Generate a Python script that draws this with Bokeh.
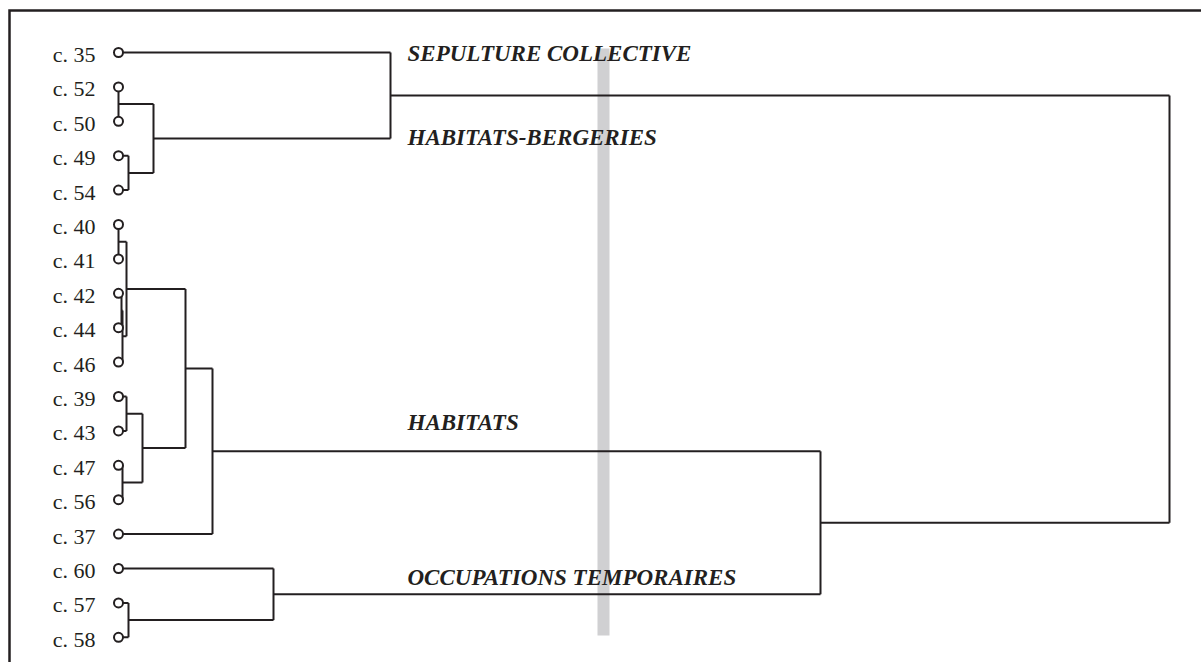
from bokeh.plotting import figure
from bokeh.models import Range1d
from bokeh.core.properties import value
from bokeh.embed import file_html
from bokeh.resources import INLINE

# ---- data ----
leaves = ["c. 35", "c. 52", "c. 50", "c. 49", "c. 54", "c. 40", "c. 41", "c. 42", "c. 44",
          "c. 46", "c. 39", "c. 43", "c. 47", "c. 56", "c. 37", "c. 60", "c. 57", "c. 58"]

# linkage: node n<k> (k = 1..17) merges merge_a[k-1] and merge_b[k-1] at merge_h[k-1]
merge_a = ["c. 52", "c. 49", "n1", "c. 35", "c. 40", "c. 42", "n6", "n5", "c. 39",
           "c. 47", "n9", "n8", "n12", "c. 57", "c. 60", "n13", "n4"]
merge_b = ["c. 50", "c. 54", "n2", "n3", "c. 41", "c. 44", "c. 46", "n7", "c. 43",
           "c. 56", "n10", "n11", "c. 37", "c. 58", "n14", "n15", "n16"]
merge_h = [0, 10, 35, 272, 0, 3, 4, 8, 8, 4, 24, 67, 94, 10, 155, 702, 1051]

groups = ["SEPULTURE COLLECTIVE", "HABITATS-BERGERIES", "HABITATS", "OCCUPATIONS TEMPORAIRES"]

# ---- layout constants ----
INK = "#231f20"
W, H = 1201, 662
X0, X1 = -118, 1083
YB, YT = 17.733, -1.512
group_x = 289
group_y = [0.03, 2.47, 10.76, 15.26]
cut_height = 485

# ---- compute dendrogram segments ----
pos = {name: (float(i), 0.0) for i, name in enumerate(leaves)}  # name -> (y, height)
x0, y0, x1, y1 = [], [], [], []
for k, (a, b, h) in enumerate(zip(merge_a, merge_b, merge_h), start=1):
    ya, ha = pos[a]
    yb, hb = pos[b]
    for yy, hh in ((ya, ha), (yb, hb)):
        if h > hh:
            x0.append(hh); y0.append(yy); x1.append(h); y1.append(yy)
    x0.append(h); y0.append(ya); x1.append(h); y1.append(yb)
    pos["n%d" % k] = ((ya + yb) / 2.0, h)

p = figure(width=W, height=H, output_backend="svg", toolbar_location=None,
           x_range=Range1d(X0, X1), y_range=Range1d(YB, YT),
           x_axis_location=None, y_axis_location=None, min_border=0,
           background_fill_color="white", border_fill_color="white")
p.grid.visible = False
p.outline_line_color = None

# frame (top and left edges of the panel)
p.line(x=[-109, -109, X1 + 10], y=[YB + 1, -1.221, -1.221], line_color=INK,
       line_width=2.5, line_join="miter")

# grey cut bar
p.quad(left=[cut_height - 6], right=[cut_height + 6], top=[-0.116], bottom=[16.95],
       fill_color="#d0d0d2", line_color=None)

# links
p.segment(x0=x0, y0=y0, x1=x1, y1=y1, line_color=INK, line_width=2)

# leaf markers
p.scatter(x=[0] * len(leaves), y=list(range(len(leaves))), size=9, marker="circle",
          fill_color="white", line_color=INK, line_width=2)

# leaf labels
p.text(x=[-23] * len(leaves), y=list(range(len(leaves))), text=leaves,
       text_font=value("Liberation Serif"), text_font_size="22px", text_color=INK,
       text_align="right", text_baseline="alphabetic", y_offset=2)

# group labels
p.text(x=[group_x] * len(groups), y=group_y, text=groups,
       text_font=value("Liberation Serif"), text_font_size="23px", text_font_style="bold italic",
       text_color=INK, text_align="left", text_baseline="alphabetic")

open("out.html", "w").write(file_html(p, INLINE))
